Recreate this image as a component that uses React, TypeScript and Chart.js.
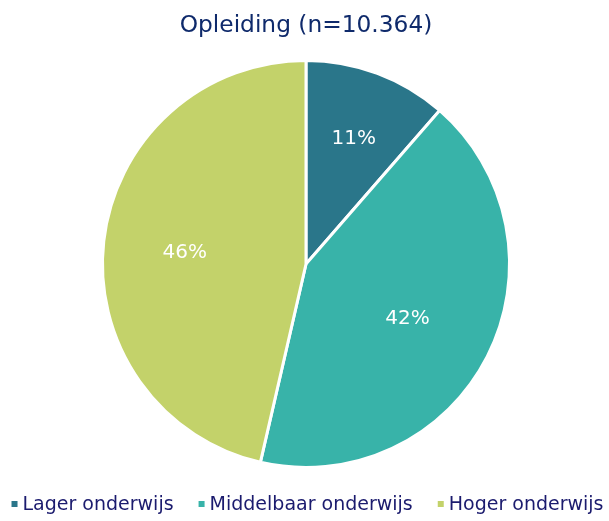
import React, { useEffect, useRef } from "react";
import { Chart, registerables } from "chart.js";

Chart.register(...registerables);

const categories = ["Lager onderwijs", "Middelbaar onderwijs", "Hoger onderwijs"];
const values = [11.4, 42.2, 46.4];
const percentLabels = ["11%", "42%", "46%"];
const colors = ["#2A768A", "#38B3A9", "#C3D26A"];
const titleText = "Opleiding (n=10.364)";

const FONT = "'DejaVu Sans', Verdana, sans-serif";
const LABEL_RADIUS = [0.67, 0.56, 0.6];

const labelPlugin = {
  id: "sliceLabels",
  afterDatasetsDraw(chart: any) {
    const ctx = chart.ctx;
    const meta = chart.getDatasetMeta(0);
    ctx.save();
    ctx.fillStyle = "#FFFFFF";
    ctx.font = `20px ${FONT}`;
    ctx.textAlign = "center";
    ctx.textBaseline = "middle";
    meta.data.forEach((arc: any, i: number) => {
      const p = arc.getProps(["x", "y", "startAngle", "endAngle", "outerRadius"], true);
      const mid = (p.startAngle + p.endAngle) / 2;
      const r = p.outerRadius * LABEL_RADIUS[i];
      ctx.fillText(percentLabels[i], p.x + Math.cos(mid) * r, p.y + Math.sin(mid) * r + 3);
    });
    ctx.restore();
  },
};

const legendPlugin = {
  id: "bottomLegend",
  afterDraw(chart: any) {
    const ctx = chart.ctx;
    const items = chart.data.labels as string[];
    const bg = chart.data.datasets[0].backgroundColor as string[];
    const box = 6;
    const boxGap = 5;
    const itemGap = 25;
    ctx.save();
    ctx.font = `19px ${FONT}`;
    ctx.textBaseline = "middle";
    ctx.textAlign = "left";
    const widths = items.map((t) => ctx.measureText(t).width);
    const total = widths.reduce((a, w) => a + box + boxGap + w, 0) + itemGap * (items.length - 1);
    let x = (chart.width - total) / 2 + 3;
    const y = chart.height - 17;
    items.forEach((t, i) => {
      ctx.fillStyle = bg[i];
      ctx.fillRect(x, y - box / 2, box, box);
      x += box + boxGap;
      ctx.fillStyle = "#1B1B6E";
      ctx.fillText(t, x, y + 1);
      x += widths[i] + itemGap;
    });
    ctx.restore();
  },
};

export default function App() {
  const ref = useRef<HTMLCanvasElement | null>(null);
  useEffect(() => {
    if (!ref.current) return;
    const chart = new Chart(ref.current, {
      type: "pie",
      data: {
        labels: categories,
        datasets: [
          {
            data: values,
            backgroundColor: colors,
            borderColor: "#FFFFFF",
            borderWidth: 3,
            hoverOffset: 0,
          },
        ],
      },
      options: {
        animation: false,
        responsive: true,
        maintainAspectRatio: false,
        layout: { padding: { top: 0, bottom: 52, left: 3, right: 0 } },
        plugins: {
          title: {
            display: true,
            text: titleText,
            color: "#0F2A6B",
            font: { family: FONT, size: 23.3, weight: "normal" },
            padding: { top: 12, bottom: 19 },
          },
          legend: { display: false },
          tooltip: { enabled: false },
        },
      },
      plugins: [labelPlugin, legendPlugin],
    });
    return () => chart.destroy();
  }, []);
  return (
    <div style={{ position: "absolute", left: 0, top: 0, width: 609, height: 521 }}>
      <canvas ref={ref} />
    </div>
  );
}
